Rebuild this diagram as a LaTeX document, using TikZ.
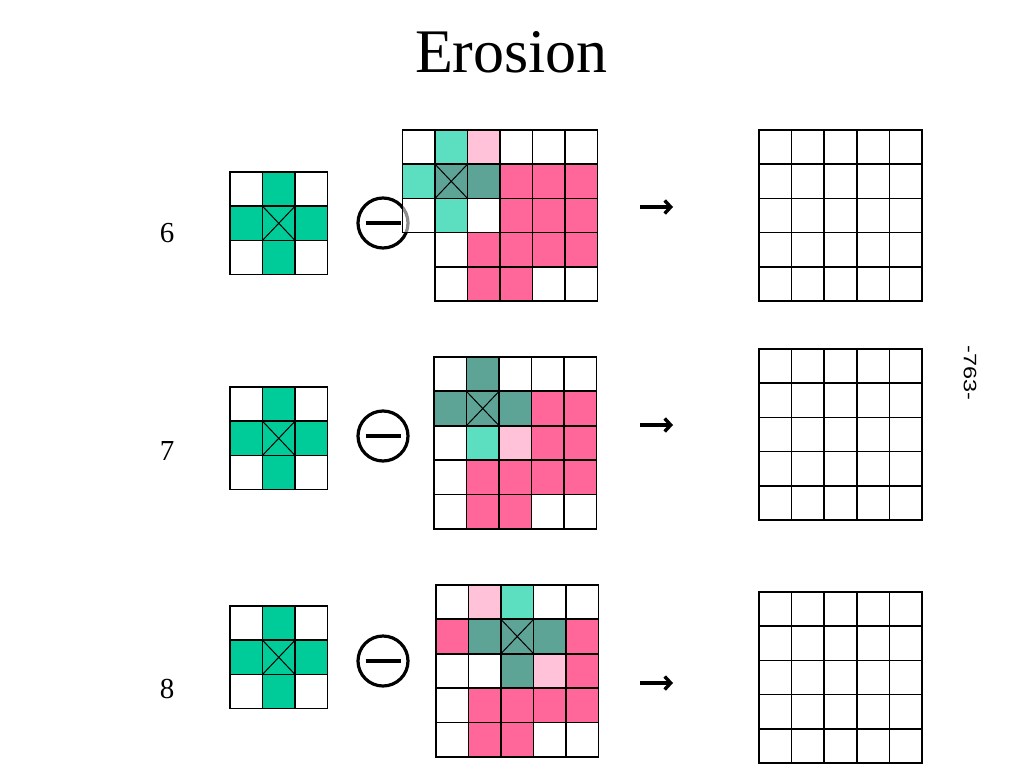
\documentclass[tikz,border=0pt]{standalone}
\usepackage{fontspec}
\setmainfont{Liberation Serif}
\newfontfamily\pagefont{Liberation Sans}
\usetikzlibrary{arrows.meta}
\definecolor{se}{RGB}{0,204,153}
\definecolor{lteal}{RGB}{92,222,192}
\definecolor{dteal}{RGB}{94,164,150}
\definecolor{pk}{RGB}{255,102,153}
\definecolor{lpk}{RGB}{255,194,216}
\begin{document}
\begin{tikzpicture}[x=1pt,y=-1pt,
    every node/.style={inner sep=0pt, outer sep=0pt},
    cell/.style={draw, line width=1.5pt, minimum width=32.5pt, minimum height=34.2pt, anchor=north west},
    minus/.style={draw, circle, line width=3.2pt, minimum size=50pt},
    goto/.style={line width=3.4pt, -{Straight Barb[length=6pt,width=13pt]}},
    num/.style={anchor=base, font=\fontsize{29}{32}\selectfont}]
    \useasboundingbox (0,0) rectangle (1024,768);
    \node[anchor=base, font=\fontsize{62}{70}\selectfont] (title) at (511.5,72) {Erosion};
    \node[rotate=-90, xscale=1.3, font=\pagefont\fontsize{18}{20}\selectfont] (page) at (970,373) {-763-};
    %
    \node[num] (n6) at (167,242) {6};
    \node[num] (n7) at (167,460) {7};
    \node[num] (n8) at (167,698) {8};
    % structuring element
    \foreach \n/\y in {6/172,7/387,8/606}
      \foreach \c/\r/\f in {0/0/white,1/0/se,2/0/white,0/1/se,1/1/se,2/1/se,0/2/white,1/2/se,2/2/white}
        \node[cell, fill=\f] (s\n-\c-\r) at ({230+\c*32.5},{\y+\r*34.2}) {};
    %
    \node[minus] (m6) at (383,223) {\rule{35pt}{3.4pt}};
    \node[minus] (m7) at (383,436) {\rule{35pt}{3.4pt}};
    \node[minus] (m8) at (383,661) {\rule{35pt}{3.4pt}};
    % image, step 6
    \foreach \c/\r/\f in {0/0/white,1/0/lteal,2/0/lpk,3/0/white,4/0/white,5/0/white,
        0/1/lteal,1/1/dteal,2/1/dteal,3/1/pk,4/1/pk,5/1/pk,
        0/2/none,1/2/lteal,2/2/white,3/2/pk,4/2/pk,5/2/pk,
        1/3/white,2/3/pk,3/3/pk,4/3/pk,5/3/pk,
        1/4/white,2/4/pk,3/4/pk,4/4/white,5/4/white}
      \node[cell, fill=\f] (g6-\c-\r) at ({402.5+\c*32.5},{130+\r*34.2}) {};
    \fill[white, fill opacity=0.55] ([xshift=0.8pt,yshift=-0.8pt]g6-0-2.north west) rectangle ([xshift=-0.8pt,yshift=0.8pt]g6-0-2.south east);
    % image, step 7
    \foreach \c/\r/\f in {0/0/white,1/0/dteal,2/0/white,3/0/white,4/0/white,
        0/1/dteal,1/1/dteal,2/1/dteal,3/1/pk,4/1/pk,
        0/2/white,1/2/lteal,2/2/lpk,3/2/pk,4/2/pk,
        0/3/white,1/3/pk,2/3/pk,3/3/pk,4/3/pk,
        0/4/white,1/4/pk,2/4/pk,3/4/white,4/4/white}
      \node[cell, fill=\f] (g7-\c-\r) at ({434+\c*32.5},{357+\r*34.4}) {};
    % image, step 8
    \foreach \c/\r/\f in {0/0/white,1/0/lpk,2/0/lteal,3/0/white,4/0/white,
        0/1/pk,1/1/dteal,2/1/dteal,3/1/dteal,4/1/pk,
        0/2/white,1/2/white,2/2/dteal,3/2/lpk,4/2/pk,
        0/3/white,1/3/pk,2/3/pk,3/3/pk,4/3/pk,
        0/4/white,1/4/pk,2/4/pk,3/4/white,4/4/white}
      \node[cell, fill=\f] (g8-\c-\r) at ({436+\c*32.5},{585+\r*34.4}) {};
    % centre marks
    \foreach \k in {s6-1-1,s7-1-1,s8-1-1,g6-1-1,g7-1-1,g8-2-1}
      \draw[line width=1pt] (\k.north west) -- (\k.south east) (\k.north east) -- (\k.south west);
    %
    \foreach \n/\y in {6/207,7/425,8/683}{
      \coordinate (a\n) at (640,\y);
      \coordinate (b\n) at (673,\y);
      \draw[goto] (a\n) -- (b\n);
    }
    % results
    \foreach \n/\y in {6/130,7/349,8/592}
      \foreach \c in {0,...,4}
        \foreach \r in {0,...,4}
          \node[cell] (o\n-\c-\r) at ({759+\c*32.6},{\y+\r*34.2}) {};
\end{tikzpicture}
\end{document}
